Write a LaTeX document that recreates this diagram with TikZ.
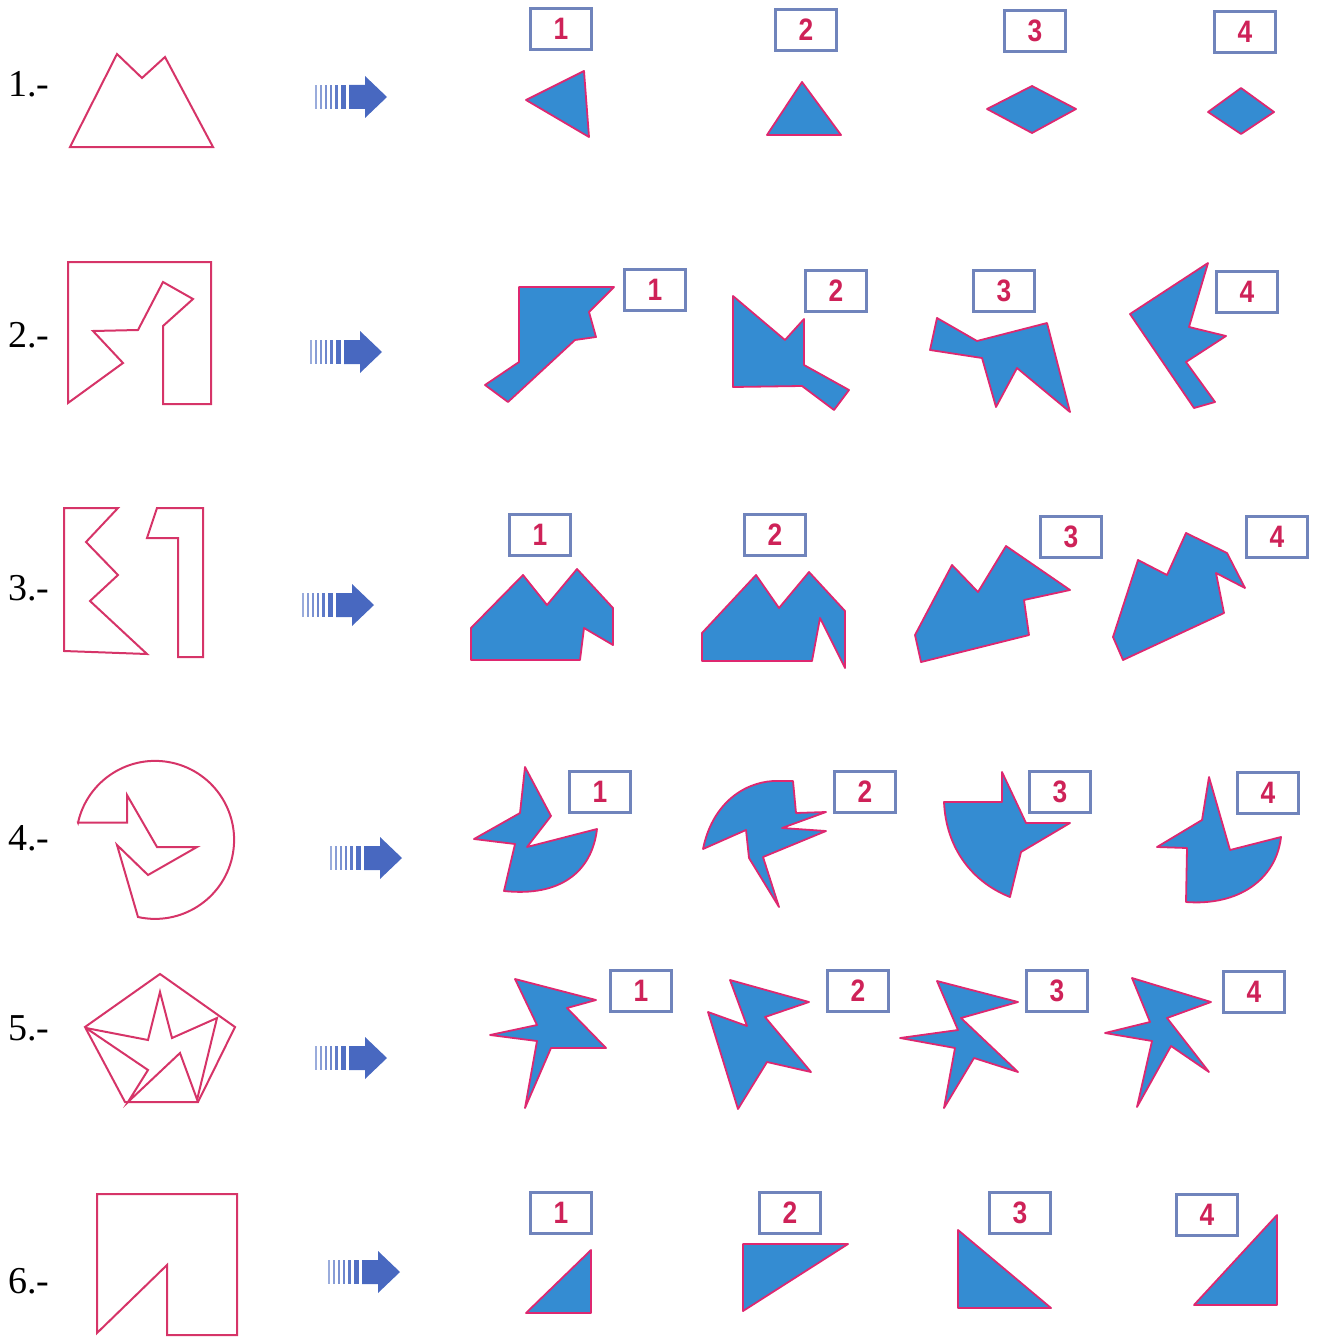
\documentclass[tikz,border=0pt]{standalone}
\usepackage{fontspec}
\setmainfont{Liberation Serif}
\newfontfamily\boxfont[FakeStretch=0.85]{Liberation Sans}
\usepackage{xcolor}
\usepackage{tikz}

\definecolor{figpink}{RGB}{214,52,104}
\definecolor{pieceblue}{RGB}{52,140,210}
\definecolor{edgepink}{RGB}{222,40,112}
\definecolor{boxblue}{RGB}{112,132,188}
\definecolor{numred}{RGB}{206,34,88}
\definecolor{arrowblue}{RGB}{72,104,192}

% striped arrow: left end x, centre y
\newcommand{\hatcharrow}[2]{%
  \foreach \a/\b/\c in {0/1.8/55, 5/6.8/65, 10/11.8/72, 15/17/80, 20/23/88, 26/31/95} {
    \fill[arrowblue!\c] (#1+\a,#2-12) rectangle (#1+\b,#2+12);
  }
  \fill[arrowblue] (#1+34,#2-12) -- (#1+50,#2-12) -- (#1+50,#2-21) -- (#1+72,#2)
    -- (#1+50,#2+21) -- (#1+50,#2+12) -- (#1+34,#2+12) -- cycle;
}

\begin{document}
\begin{tikzpicture}[
    x=0.5pt, y=-0.5pt,
    outline/.style={draw=figpink, line width=1pt, line join=miter},
    piece/.style={fill=pieceblue, draw=edgepink, line width=0.9pt, line join=round},
    numbox/.style={draw=boxblue, line width=1.2pt, minimum width=30.5pt, minimum height=20.5pt,
        inner sep=0pt, text=numred, font=\boxfont\bfseries\fontsize{15.5}{15.5}\selectfont},
    rowlabel/.style={anchor=base west, inner sep=0pt, font=\fontsize{19}{22}\selectfont}
]
\useasboundingbox (0,0) rectangle (1322,1343);

% row labels
\foreach \r/\ly in {1/97, 2/347, 3/600, 4/850, 5/1040, 6/1293} {
    \node[rowlabel] (row\r) at (8,\ly) {\r.-};
}

% arrows
\foreach \ax/\ay in {315/97, 310/352, 302/605, 330/858, 315/1058, 328/1272} {
    \hatcharrow{\ax}{\ay}
}

% number boxes
\foreach \k/\bx/\by in {1/561/29, 2/806/30, 3/1035/31, 4/1245/32} {
    \node[numbox] (a\k) at (\bx,\by) {\k};
}
\foreach \k/\bx/\by in {1/655/290, 2/836/291, 3/1004/291, 4/1247/292} {
    \node[numbox] (b\k) at (\bx,\by) {\k};
}
\foreach \k/\bx/\by in {1/540/535, 2/775/535, 3/1071/537, 4/1277/537} {
    \node[numbox] (c\k) at (\bx,\by) {\k};
}
\foreach \k/\bx/\by in {1/600/792, 2/865/792, 3/1060/792, 4/1268/793} {
    \node[numbox] (d\k) at (\bx,\by) {\k};
}
\foreach \k/\bx/\by in {1/641/991, 2/858/991, 3/1057/991, 4/1254/992} {
    \node[numbox] (e\k) at (\bx,\by) {\k};
}
\foreach \k/\bx/\by in {1/561/1213, 2/790/1213, 3/1020/1213, 4/1207/1215} {
    \node[numbox] (f\k) at (\bx,\by) {\k};
}

% ---- row 1
\draw[outline] (70,147) -- (117,54) -- (142,78) -- (165,57) -- (213,147) -- cycle;
\filldraw[piece] (526,100) -- (584,71) -- (589,137) -- cycle;
\filldraw[piece] (802,82) -- (841,135) -- (767,135) -- cycle;
\filldraw[piece] (987,109) -- (1032,86) -- (1076,109) -- (1032,133) -- cycle;
\filldraw[piece] (1208,112) -- (1241,88) -- (1274,112) -- (1241,134) -- cycle;

% ---- row 2
\draw[outline] (68,262) -- (211,262) -- (211,404) -- (163,404) -- (163,326) -- (193,299)
    -- (163,282) -- (138,330) -- (93,331) -- (123,363) -- (68,403) -- cycle;
\filldraw[piece] (519,287) -- (614,287) -- (589,312) -- (596,337) -- (575,340) -- (508,402)
    -- (485,385) -- (519,362) -- cycle;
\filldraw[piece] (733,296) -- (785,340) -- (804,319) -- (804,365) -- (849,390) -- (834,410)
    -- (802,386) -- (733,387) -- cycle;
\filldraw[piece] (937,318) -- (977,341) -- (1047,323) -- (1070,412) -- (1017,368) -- (996,407)
    -- (982,358) -- (930,350) -- cycle;
\filldraw[piece] (1208,263) -- (1189,327) -- (1226,336) -- (1186,362) -- (1215,402) -- (1194,408)
    -- (1130,314) -- cycle;

% ---- row 3
\draw[outline] (64,508) -- (118,508) -- (86,542) -- (118,575) -- (90,601) -- (147,654)
    -- (64,651) -- cycle;
\draw[outline] (157,508) -- (203,508) -- (203,657) -- (178,657) -- (178,538) -- (147,538) -- cycle;
\filldraw[piece] (471,628) -- (523,575) -- (547,605) -- (577,569) -- (613,608) -- (613,645)
    -- (584,628) -- (580,660) -- (471,660) -- cycle;
\filldraw[piece] (702,633) -- (756,575) -- (779,608) -- (809,572) -- (845,611) -- (845,668)
    -- (820,618) -- (812,661) -- (702,661) -- cycle;
\filldraw[piece] (915,635) -- (952,565) -- (978,592) -- (1006,546) -- (1070,590) -- (1024,600)
    -- (1029,635) -- (921,662) -- cycle;
\filldraw[piece] (1113,637) -- (1138,560) -- (1167,575) -- (1186,533) -- (1227,553) -- (1245,588)
    -- (1216,573) -- (1224,613) -- (1123,660) -- cycle;

% ---- row 4
\draw[outline] (78.03,822.5) -- (127,822.5) -- (127,795) -- (157,847) -- (197,847) -- (148,875)
    -- (117,845) -- (138,917) arc[start angle=102.5, end angle=-167.3, radius=79] -- cycle;
\filldraw[piece] (525,767) -- (551,816) -- (527,847) -- (597,829)
    .. controls (592,872) and (560,897) .. (504,891) -- (515,844) -- (474,839) -- (520,813) -- cycle;
\filldraw[piece] (703,849) -- (746,830) -- (749,858) -- (779,907) -- (763,857) -- (826,831)
    -- (782,828) -- (826,812) -- (796,813) -- (793,781) -- (773,781)
    .. controls (742,783) and (712,805) .. (703,849) -- cycle;
\filldraw[piece] (944,802) -- (1002,802) -- (1002,772) -- (1026,823) -- (1070,823) -- (1021,852)
    -- (1010,897) .. controls (972,882) and (946,848) .. (944,802) -- cycle;
\filldraw[piece] (1209,777) -- (1230,850) -- (1281,837)
    .. controls (1276,880) and (1238,906) .. (1186,902) -- (1187,848) -- (1157,847) -- (1202,820) -- cycle;

% ---- row 5
\draw[outline] (160,974) -- (235,1027) -- (198,1102) -- (125,1102) -- (85,1027) -- cycle;
\draw[outline] (86,1028) -- (148,1040) -- (160,992) -- (172,1038) -- (217,1018) -- (197,1100);
\draw[outline] (86,1028) -- (148,1070) -- (128,1102) -- (180,1053) -- (198,1102);
\filldraw[piece] (515,979) -- (596,1000) -- (567,1008) -- (606,1048) -- (551,1048) -- (525,1108)
    -- (537,1041) -- (490,1035) -- (537,1025) -- cycle;
\filldraw[piece] (730,980) -- (809,1002) -- (765,1017) -- (811,1072) -- (767,1062) -- (738,1109)
    -- (708,1012) -- (747,1026) -- cycle;
\filldraw[piece] (937,981) -- (1018,1002) -- (961,1018) -- (1018,1072) -- (974,1058) -- (944,1108)
    -- (955,1048) -- (900,1038) -- (958,1030) -- cycle;
\filldraw[piece] (1132,978) -- (1211,1002) -- (1167,1018) -- (1209,1072) -- (1171,1046) -- (1137,1107)
    -- (1152,1041) -- (1105,1033) -- (1150,1022) -- cycle;

% ---- row 6
\draw[outline] (97,1194) -- (237,1194) -- (237,1335) -- (167,1335) -- (167,1265) -- (97,1333) -- cycle;
\filldraw[piece] (526,1313) -- (591,1250) -- (591,1313) -- cycle;
\filldraw[piece] (743,1244) -- (848,1244) -- (743,1311) -- cycle;
\filldraw[piece] (958,1230) -- (1051,1308) -- (958,1308) -- cycle;
\filldraw[piece] (1194,1305) -- (1277,1215) -- (1277,1305) -- cycle;

\end{tikzpicture}
\end{document}
